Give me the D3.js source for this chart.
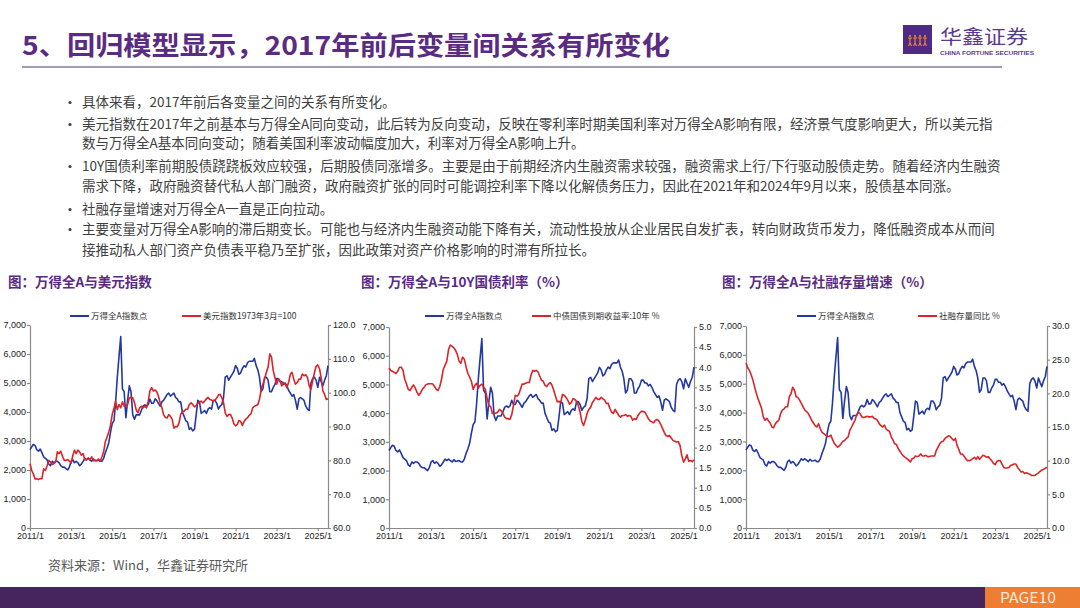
<!DOCTYPE html>
<html>
<head>
<meta charset="utf-8">
<script src="https://cdn.jsdelivr.net/npm/d3@7"></script>
<style>
  body { margin: 0; background: #fff; }
  svg { display: block; font-family: "Noto Sans CJK SC", "Noto Sans", sans-serif; }
  .axis text { font-family: "Liberation Sans", Arial, sans-serif; font-size: 9px; fill: #222; }
  .axis path, .axis line { stroke: #8a8a8a; stroke-width: 1.2; }
</style>
</head>
<body>
<svg id="page" width="1080" height="608"></svg>
<script>
// monthly, 2011/1 .. 2025/7
const startDate = '2011-01-01'

// 万得全A指数 (点)
const wandeA = [
  2700, 2800, 2880, 2850, 2700, 2650, 2720, 2600, 2450, 2400, 2350, 2200,
  2150, 2300, 2250, 2300, 2300, 2250, 2150, 2100, 2100, 2050, 2000, 2100,
  2300, 2350, 2250, 2300, 2250, 2150, 2200, 2300, 2400, 2350, 2400, 2350,
  2300, 2380, 2320, 2330, 2350, 2300, 2300, 2400, 2600, 2750, 2950, 3300,
  3600, 3700, 4300, 5200, 5900, 6600, 4800, 4700, 3800, 4400, 4900, 4700,
  3900, 3750, 3900, 3900, 3900, 4050, 4200, 4250, 4200, 4250, 4450, 4300,
  4300, 4450, 4400, 4300, 4200, 4350, 4400, 4500, 4600, 4650, 4550, 4600,
  4650, 4500, 4450, 4350, 4350, 4000, 3850, 3700, 3650, 3400, 3450, 3350,
  3400, 3900, 4400, 4350, 3950, 4000, 4050, 3950, 4100, 4150, 4100, 4400,
  4400, 4300, 4100, 4200, 4250, 4500, 5200, 5250, 5100, 5200, 5300, 5400,
  5600, 5500, 5300, 5350, 5500, 5600, 5550, 5700, 5750, 5750, 5750, 5850,
  5600, 5450, 5200, 4700, 4800, 5200, 5200, 5100, 4700, 4700, 4850, 4950,
  5150, 5150, 5050, 5050, 4950, 5000, 4900, 4750, 4650, 4550, 4600, 4400,
  4100, 4450, 4500, 4450, 4400, 4200, 4100, 4050, 5000, 5150, 5200, 5100,
  4850, 5200, 5050, 4900, 5100, 5250, 5600
]

// 美元指数 1973年3月=100
const dollarIndex = [
  79.0, 77.0, 76.0, 74.5, 74.6, 74.3, 74.6, 74.6, 77.5, 77.0, 78.4, 80.0,
  79.5, 78.8, 79.0, 79.5, 82.5, 82.0, 82.7, 81.2, 80.0, 80.0, 80.2, 79.8,
  79.2, 81.5, 83.0, 82.0, 83.0, 82.5, 81.5, 82.0, 80.2, 80.2, 80.7, 80.2,
  81.0, 79.9, 80.1, 79.8, 80.4, 79.8, 81.0, 82.5, 85.5, 86.9, 88.4, 90.3,
  93.6, 95.3, 97.5, 95.0, 96.5, 95.5, 97.3, 96.0, 96.3, 96.5, 98.5, 98.6,
  98.5, 97.0, 95.0, 94.0, 95.5, 96.0, 95.5, 96.0, 95.5, 97.5, 100.5, 101.5,
  100.5, 100.8, 100.3, 99.0, 97.0, 95.6, 93.5, 92.7, 92.5, 93.5, 93.0, 92.1,
  89.5, 90.0, 89.9, 91.0, 93.5, 94.5, 94.5, 95.1, 95.1, 96.5, 97.0, 96.5,
  95.8, 96.2, 96.8, 97.3, 97.5, 97.0, 97.5, 98.2, 98.6, 98.0, 97.8, 97.5,
  97.8, 98.4, 99.3, 99.5, 98.5, 97.0, 94.0, 93.0, 93.5, 93.6, 92.5, 90.8,
  90.2, 90.6, 91.8, 91.5, 90.3, 91.5, 92.2, 92.6, 93.3, 93.8, 95.5, 96.0,
  96.2, 96.5, 98.0, 101.0, 102.5, 104.0, 106.0, 107.5, 111.5, 110.5, 106.5, 104.5,
  102.5, 104.0, 103.5, 102.0, 103.0, 102.5, 101.5, 103.0, 105.5, 106.0, 104.0, 102.5,
  103.0, 104.0, 104.0, 105.5, 105.0, 105.3, 104.5, 102.0, 101.0, 103.5, 105.8, 107.8,
  108.2, 107.0, 104.5, 100.5, 99.5, 98.0, 98.2
]

// 中债国债到期收益率:10年 %
const cgb10y = [
  3.98, 3.92, 3.90, 3.87, 3.84, 3.90, 4.00, 4.00, 3.92, 3.70, 3.58, 3.45,
  3.42, 3.50, 3.56, 3.48, 3.38, 3.30, 3.36, 3.45, 3.50, 3.56, 3.58, 3.59,
  3.59, 3.58, 3.52, 3.45, 3.42, 3.52, 3.70, 3.95, 4.05, 4.15, 4.45, 4.55,
  4.52, 4.48, 4.42, 4.32, 4.15, 4.10, 4.25, 4.20, 4.00, 3.85, 3.75, 3.65,
  3.45, 3.55, 3.60, 3.48, 3.55, 3.58, 3.50, 3.45, 3.22, 3.05, 3.02, 2.85,
  2.84, 2.86, 2.88, 2.95, 2.92, 2.85, 2.76, 2.72, 2.72, 2.70, 2.82, 3.05,
  3.30, 3.28, 3.32, 3.45, 3.58, 3.58, 3.60, 3.62, 3.62, 3.80, 3.92, 3.90,
  3.92, 3.88, 3.78, 3.68, 3.65, 3.55, 3.52, 3.58, 3.62, 3.55, 3.42, 3.28,
  3.14, 3.15, 3.12, 3.32, 3.30, 3.25, 3.18, 3.08, 3.12, 3.22, 3.20, 3.15,
  3.05, 2.88, 2.65, 2.55, 2.68, 2.85, 2.95, 3.00, 3.12, 3.18, 3.25, 3.20,
  3.20, 3.25, 3.22, 3.18, 3.10, 3.10, 2.98, 2.88, 2.85, 2.95, 2.88, 2.80,
  2.76, 2.80, 2.80, 2.82, 2.78, 2.80, 2.78, 2.68, 2.72, 2.70, 2.80, 2.86,
  2.90, 2.90, 2.88, 2.80, 2.72, 2.66, 2.64, 2.62, 2.68, 2.70, 2.66, 2.58,
  2.48, 2.38, 2.30, 2.28, 2.30, 2.24, 2.18, 2.16, 2.14, 2.15, 2.05, 1.80,
  1.64, 1.72, 1.82, 1.66, 1.68, 1.65, 1.70
]

// 社融存量同比 %
const tsfGrowth = [
  24.5, 23.8, 23.4, 22.8, 22.0, 21.0, 20.0, 19.2, 18.5, 17.8, 16.5, 16.0,
  16.3, 15.9, 15.6, 15.0, 14.9, 15.5, 15.8, 16.0, 17.0, 17.5, 17.7, 18.0,
  18.0, 19.5, 19.9, 20.9, 20.5, 19.5, 19.4, 19.0, 18.5, 18.0, 17.5, 17.3,
  17.0, 16.5, 16.0, 15.6, 15.2, 15.0, 15.5, 14.7, 14.2, 14.0, 13.8, 13.6,
  13.6, 13.8, 13.2, 12.6, 12.3, 12.0, 12.2, 12.5, 12.9, 13.0, 13.3, 13.5,
  14.5, 15.0, 15.5, 16.0, 16.8, 17.2, 17.0, 16.5, 16.4, 16.5, 16.6, 16.5,
  16.5, 16.6, 16.3, 16.2, 16.0, 15.5, 15.2, 15.0, 15.3, 14.7, 14.5, 14.3,
  13.5, 13.0, 12.5, 12.4, 11.8, 11.4, 11.0, 10.7, 10.5, 10.3, 10.1, 9.8,
  10.3, 10.4, 10.7, 10.6, 10.7, 11.0, 10.7, 10.7, 10.8, 10.6, 10.6, 10.7,
  10.7, 10.7, 11.5, 12.0, 12.5, 12.8, 12.9, 13.3, 13.5, 13.7, 13.6, 13.3,
  13.0, 13.3, 12.3, 11.7, 11.0, 11.0, 10.7, 10.3, 10.0, 10.0, 10.1, 10.3,
  10.5, 10.2, 10.6, 10.2, 10.5, 10.8, 10.7, 10.5, 10.6, 10.3, 10.0, 9.6,
  9.4, 9.9, 10.0, 10.0, 9.5, 9.0, 8.9, 8.9, 9.0, 9.3, 9.4, 9.5,
  9.5, 9.0, 8.7, 8.3, 8.4, 8.1, 8.2, 8.1, 8.0, 7.8, 7.8, 7.8,
  8.0, 8.2, 8.4, 8.6, 8.7, 8.9, 9.0
]

const xTickLabels = ['2011/1', '2013/1', '2015/1', '2017/1', '2019/1', '2021/1', '2023/1', '2025/1']
const leftTicks = [0, 1000, 2000, 3000, 4000, 5000, 6000, 7000]
const dollarTicks = [60, 70, 80, 90, 100, 110, 120]
const yieldTicks = [0, 0.5, 1, 1.5, 2, 2.5, 3, 3.5, 4, 4.5, 5]
const tsfTicks = [0, 5, 10, 15, 20, 25, 30]

const chartTitles = ['图：万得全A与美元指数', '图：万得全A与10Y国债利率（%）', '图：万得全A与社融存量增速（%）']
const blueName = '万得全A指数点'
const redNames = ['美元指数1973年3月=100', '中债国债到期收益率:10年 %', '社融存量同比 %']

const bulletLines = [
  [true, '具体来看，2017年前后各变量之间的关系有所变化。'],
  [true, '美元指数在2017年之前基本与万得全A同向变动，此后转为反向变动，反映在零利率时期美国利率对万得全A影响有限，经济景气度影响更大，所以美元指'],
  [false, '数与万得全A基本同向变动；随着美国利率波动幅度加大，利率对万得全A影响上升。'],
  [true, '10Y国债利率前期股债跷跷板效应较强，后期股债同涨增多。主要是由于前期经济内生融资需求较强，融资需求上行/下行驱动股债走势。随着经济内生融资'],
  [false, '需求下降，政府融资替代私人部门融资，政府融资扩张的同时可能调控利率下降以化解债务压力，因此在2021年和2024年9月以来，股债基本同涨。'],
  [true, '社融存量增速对万得全A一直是正向拉动。'],
  [true, '主要变量对万得全A影响的滞后期变长。可能也与经济内生融资动能下降有关，流动性投放从企业居民自发扩表，转向财政货币发力，降低融资成本从而间'],
  [false, '接推动私人部门资产负债表平稳乃至扩张，因此政策对资产价格影响的时滞有所拉长。']
]

const purple = '#5a2b82'
const blue = '#2338a0'
const red = '#dc2328'

const svg = d3.select('#page')

// header
svg.append('text')
  .attr('x', 22).attr('y', 55)
  .attr('font-size', 26).attr('font-weight', 'bold')
  .attr('fill', purple)
  .attr('textLength', 648).attr('lengthAdjust', 'spacingAndGlyphs')
  .text('5、回归模型显示，2017年前后变量间关系有所变化')

svg.append('line')
  .attr('x1', 22).attr('x2', 1002).attr('y1', 67).attr('y2', 67)
  .style('stroke', '#a79bbd').style('stroke-width', 2)

// logo
const logo = svg.append('g')
logo.append('rect').attr('x', 903).attr('y', 25).attr('width', 29).attr('height', 29).attr('fill', '#4f2a85')
d3.range(4).forEach(i => {
  const cx = 910 + i * 5
  logo.append('circle').attr('cx', cx).attr('cy', 36).attr('r', 1.1).attr('fill', '#f08a2c')
  logo.append('path')
    .attr('d', `M${cx - 2},38 L${cx + 2},38 M${cx},37.5 L${cx},43 M${cx},43 L${cx - 1.5},46 M${cx},43 L${cx + 1.5},46`)
    .style('stroke', '#f08a2c').style('stroke-width', 1.1).style('fill', 'none')
})
logo.append('text')
  .attr('x', 940).attr('y', 44)
  .attr('font-size', 19).attr('fill', '#5b3a8e')
  .attr('textLength', 88).attr('lengthAdjust', 'spacingAndGlyphs')
  .text('华鑫证券')
logo.append('text')
  .attr('x', 940).attr('y', 55)
  .attr('font-size', 6).attr('font-weight', 'bold').attr('fill', '#5b3a8e')
  .style('font-family', '"Liberation Sans", Arial, sans-serif')
  .attr('textLength', 94).attr('lengthAdjust', 'spacingAndGlyphs')
  .text('CHINA FORTUNE SECURITIES')

// bullets
const lineY = [107, 129, 148, 171, 191, 214, 234, 255]
bulletLines.forEach((d, i) => {
  if (d[0]) {
    svg.append('circle').attr('cx', 70).attr('cy', lineY[i] - 4.5).attr('r', 1.6).attr('fill', '#404040')
  }
  svg.append('text').attr('x', 82).attr('y', lineY[i])
    .attr('font-size', 13.5).attr('fill', '#404040')
    .text(d[1])
})

// charts
const months = d3.timeMonth.range(new Date(startDate), new Date(2025, 7, 1))
const xDomain = [new Date(startDate), new Date(2025, 6, 1)]
const parseTick = d3.timeParse('%Y/%m')

const charts = [
  { titleX: 8, left: 30, right: 328, top: 325, bottom: 528, series: dollarIndex, rTicks: dollarTicks, rFmt: d3.format('.1f'),
    legBlue: 70, legRed: 182 },
  { titleX: 361, left: 389, right: 694, top: 327, bottom: 528, series: cgb10y, rTicks: yieldTicks, rFmt: d3.format('.1f'),
    legBlue: 425, legRed: 532 },
  { titleX: 722, left: 746, right: 1047, top: 326, bottom: 528, series: tsfGrowth, rTicks: tsfTicks, rFmt: d3.format('.1f'),
    legBlue: 797, legRed: 918 }
]

charts.forEach((c, ci) => {
  svg.append('text')
    .attr('x', c.titleX).attr('y', 287)
    .attr('font-size', 13.5).attr('font-weight', 'bold').attr('fill', purple)
    .text(chartTitles[ci])

  const x = d3.scaleTime().domain(xDomain).range([c.left, c.right])
  const yL = d3.scaleLinear().domain([0, 7000]).range([c.bottom, c.top])
  const yR = d3.scaleLinear().domain(d3.extent(c.rTicks)).range([c.bottom, c.top])

  const g = svg.append('g')

  g.append('g').attr('class', 'axis')
    .attr('transform', `translate(0,${c.bottom})`)
    .call(d3.axisBottom(x).tickValues(xTickLabels.map(parseTick))
      .tickFormat(d3.timeFormat('%Y/%-m')).tickSizeInner(3).tickSizeOuter(0).tickPadding(2))

  g.append('g').attr('class', 'axis')
    .attr('transform', `translate(${c.left},0)`)
    .call(d3.axisLeft(yL).tickValues(leftTicks).tickFormat(d3.format(',')).tickSizeInner(3).tickSizeOuter(0).tickPadding(1))

  g.append('g').attr('class', 'axis')
    .attr('transform', `translate(${c.right},0)`)
    .call(d3.axisRight(yR).tickValues(c.rTicks).tickFormat(c.rFmt).tickSizeInner(3).tickSizeOuter(0).tickPadding(2))

  const blueLine = d3.line().x((d, i) => x(months[i])).y(d => yL(d))
  const redLine = d3.line().x((d, i) => x(months[i])).y(d => yR(d))

  g.append('path').datum(wandeA)
    .attr('d', blueLine)
    .style('fill', 'none').style('stroke', blue).style('stroke-width', 1.6).style('stroke-linejoin', 'round')

  g.append('path').datum(c.series)
    .attr('d', redLine)
    .style('fill', 'none').style('stroke', red).style('stroke-width', 1.6).style('stroke-linejoin', 'round')

  // legend
  const legend = [
    { x: c.legBlue, color: blue, label: blueName },
    { x: c.legRed, color: red, label: redNames[ci] }
  ]
  g.selectAll().data(legend).enter().append('line')
    .attr('x1', d => d.x).attr('x2', d => d.x + 19)
    .attr('y1', 316).attr('y2', 316)
    .style('stroke', d => d.color).style('stroke-width', 2)
  g.selectAll().data(legend).enter().append('text')
    .attr('x', d => d.x + 21).attr('y', 319)
    .attr('font-size', 8.5).attr('fill', '#333')
    .text(d => d.label)
})

// footer
svg.append('text')
  .attr('x', 48).attr('y', 570)
  .attr('font-size', 13).attr('fill', '#595959')
  .text('资料来源：Wind，华鑫证券研究所')

svg.append('rect').attr('x', 0).attr('y', 587).attr('width', 1080).attr('height', 21).attr('fill', '#46255c')
svg.append('rect').attr('x', 985).attr('y', 587).attr('width', 95).attr('height', 21).attr('fill', '#ee7f32')
svg.append('text')
  .attr('x', 1000).attr('y', 603)
  .attr('font-size', 15).attr('fill', '#f3e6dc')
  .attr('textLength', 56).attr('lengthAdjust', 'spacingAndGlyphs')
  .text('PAGE10')
</script>
</body>
</html>
